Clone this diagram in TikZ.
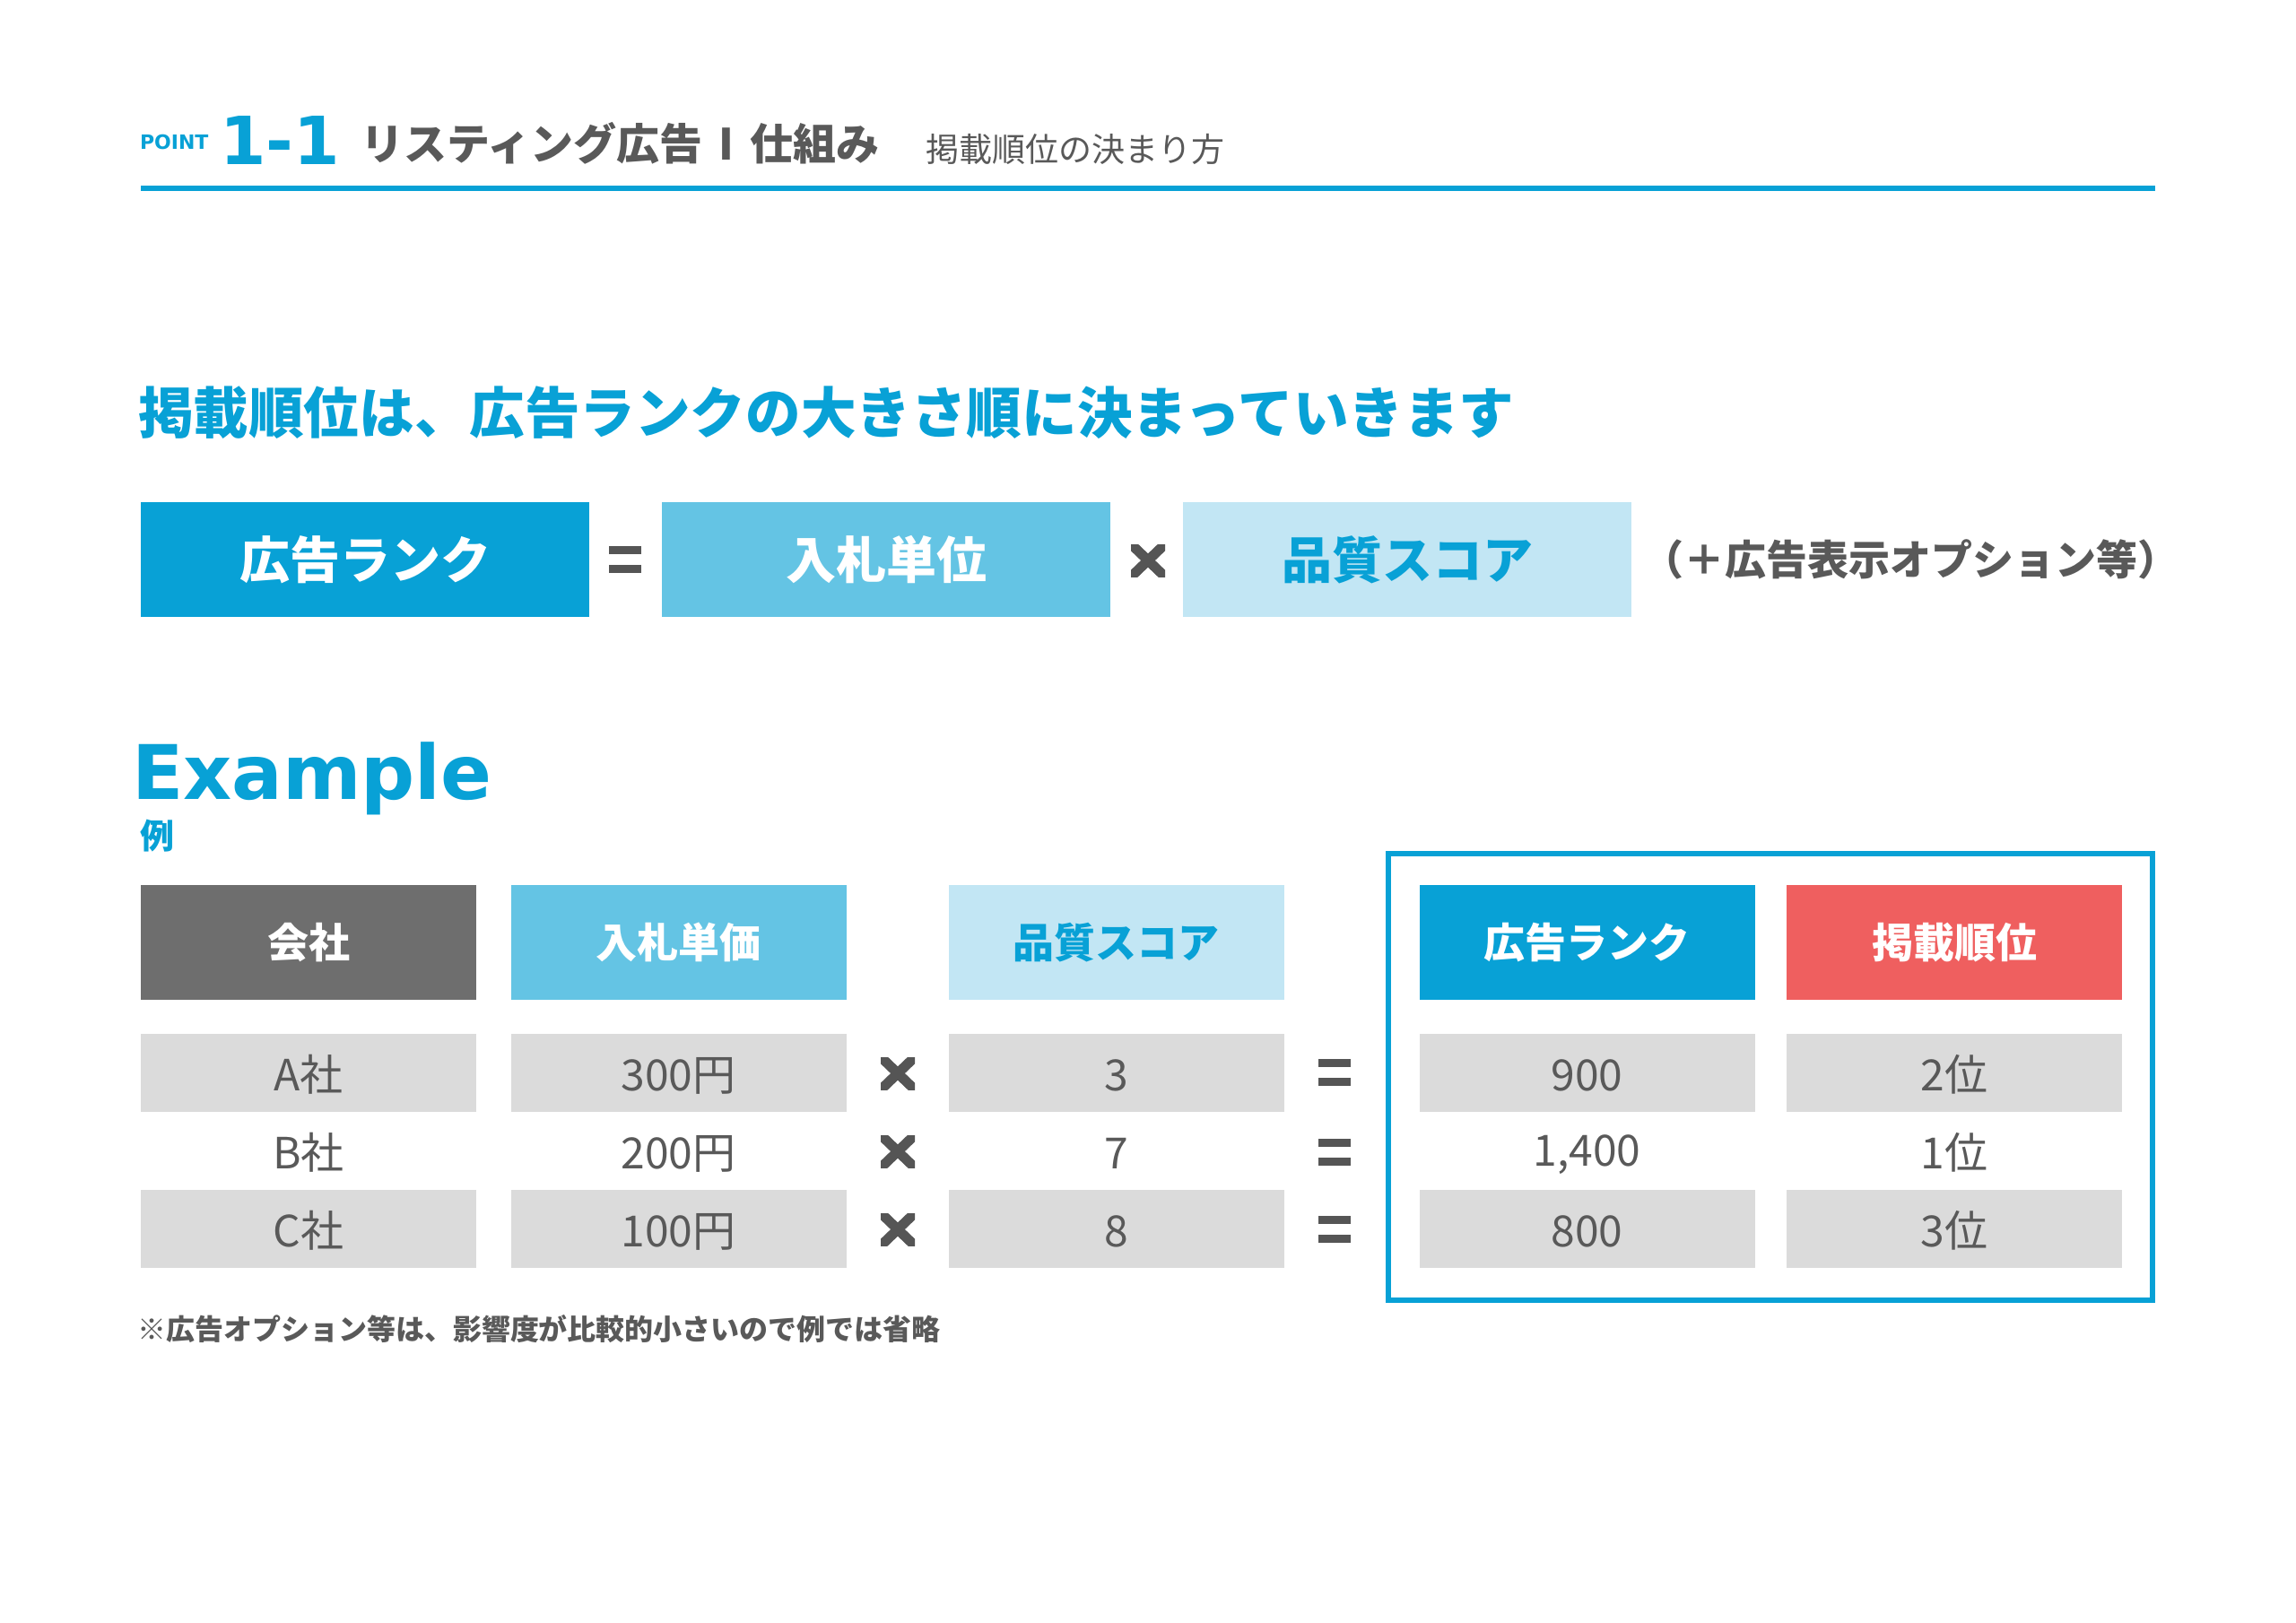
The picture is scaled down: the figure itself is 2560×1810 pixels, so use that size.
\documentclass[tikz,border=0pt]{standalone}
\usepackage{fontspec}
\setmainfont{Noto Sans CJK JP}
\newfontfamily\verd{DejaVu Sans}
\definecolor{mainblue}{HTML}{08A1D6}
\definecolor{midblue}{HTML}{64C4E4}
\definecolor{paleblue}{HTML}{C2E6F4}
\definecolor{darkcell}{HTML}{6E6E6E}
\definecolor{redcell}{HTML}{EF5F5F}
\definecolor{graycell}{HTML}{DBDBDB}
\definecolor{txtgray}{HTML}{595959}
\definecolor{opgray}{HTML}{555555}
\tikzset{
 fbox/.style={minimum width=250pt, minimum height=64pt, font=\bfseries\fontsize{28pt}{30pt}\selectfont},
 hcell/.style={minimum width=187pt, minimum height=64pt, font=\bfseries\fontsize{23pt}{25pt}\selectfont, text=white},
 dcell/.style={minimum width=187pt, minimum height=43.5pt, text height=20pt, text depth=0pt, font=\fontsize{24pt}{26pt}\selectfont, text=txtgray},
 eqsign/.pic={\fill[opgray] (-18,-15) rectangle (18,-6); \fill[opgray] (-18,6) rectangle (18,15);},
 timessign/.pic={\begin{scope}\clip (-19,-18) rectangle (19,18); \draw[opgray, line width=5.5pt] (-26,-25) -- (26,25) (-26,25) -- (26,-25);\end{scope}},
}
\begin{document}
\begin{tikzpicture}[x=0.5pt,y=-0.5pt, every node/.style={inner sep=0pt, outer sep=0pt}]
\useasboundingbox[fill=white] (0,0) rectangle (2560,1810);
% header
\node (point) [anchor=west, text=mainblue, font=\verd\bfseries\fontsize{11pt}{12pt}\selectfont] at (156,158) {POINT};
\node (num) [anchor=base west, text=mainblue, font=\verd\bfseries\fontsize{37pt}{40pt}\selectfont] at (245,183) {1-1};
\node (title) [anchor=base west, text=txtgray, font=\bfseries\fontsize{24pt}{26pt}\selectfont] at (402,178) {リスティング広告\hspace{0.38em}I\hspace{0.38em}仕組み};
\node (subtitle) [anchor=base west, text=txtgray, font=\fontsize{18.5pt}{20pt}\selectfont] at (1032,180) {掲載順位の決まり方};
\fill[mainblue] (157,207) rectangle (2403,213);
% headline
\node (headline) [anchor=west, text=mainblue, font=\bfseries\fontsize{30.8pt}{32pt}\selectfont] at (154,460) {掲載順位は、広告ランクの大きさ順に決まっていきます};
% formula
\node (f1) [fbox, fill=mainblue, text=white] at (407,624) {広告ランク};
\pic (feq) at (697,624) {eqsign};
\node (f2) [fbox, fill=midblue, text=white] at (988,624) {入札単位};
\pic (fx) at (1280,625) {timessign};
\node (f3) [fbox, fill=paleblue, text=mainblue] at (1569,624) {品質スコア};
\node (fopt) [text=txtgray, font=\bfseries\fontsize{23pt}{25pt}\selectfont] at (2130,624) {（＋広告表示オプション等）};
% example
\node (example) [anchor=base west, text=mainblue, font=\verd\bfseries\fontsize{42pt}{44pt}\selectfont] at (147,891) {Example};
\node (rei) [anchor=west, text=mainblue, font=\bfseries\fontsize{19pt}{20pt}\selectfont] at (156,932) {例};
% frame
\node (frame) [draw=mainblue, line width=2.7pt, minimum width=426pt, minimum height=249pt] at (1974,1201) {};
% header row
\node (hcomp) [hcell, fill=darkcell] at (344,1051) {会社};
\node (hbid) [hcell, fill=midblue] at (756.5,1051) {入札単価};
\node (hqs) [hcell, fill=paleblue, text=mainblue] at (1244.5,1051) {品質スコア};
\node (hrank) [hcell, fill=mainblue] at (1769.5,1051) {広告ランク};
\node (hpos) [hcell, fill=redcell] at (2179,1051) {掲載順位};
% row A
\node (a1) [dcell, fill=graycell] at (344,1196.5) {A社};
\node (a2) [dcell, fill=graycell] at (756.5,1196.5) {300円};
\pic (ax) at (1001,1197) {timessign};
\node (a3) [dcell, fill=graycell] at (1244.5,1196.5) {3};
\pic (aeq) at (1488,1196) {eqsign};
\node (a4) [dcell, fill=graycell] at (1769.5,1196.5) {900};
\node (a5) [dcell, fill=graycell] at (2179,1196.5) {2位};
% row B
\node (b1) [dcell] at (344,1283.5) {B社};
\node (b2) [dcell] at (756.5,1283.5) {200円};
\pic (bx) at (1001,1284) {timessign};
\node (b3) [dcell] at (1244.5,1283.5) {7};
\pic (beq) at (1488,1284.5) {eqsign};
\node (b4) [dcell] at (1769.5,1280) {1,400};
\node (b5) [dcell] at (2179,1283.5) {1位};
% row C
\node (c1) [dcell, fill=graycell] at (344,1370.5) {C社};
\node (c2) [dcell, fill=graycell] at (756.5,1370.5) {100円};
\pic (cx) at (1001,1371) {timessign};
\node (c3) [dcell, fill=graycell] at (1244.5,1370.5) {8};
\pic (ceq) at (1488,1371) {eqsign};
\node (c4) [dcell, fill=graycell] at (1769.5,1370.5) {800};
\node (c5) [dcell, fill=graycell] at (2179,1370.5) {3位};
% footnote
\node (note) [anchor=west, text=txtgray, font=\bfseries\fontsize{16pt}{18pt}\selectfont] at (153,1482) {※広告オプション等は、影響度が比較的小さいので例では省略};
\end{tikzpicture}
\end{document}
